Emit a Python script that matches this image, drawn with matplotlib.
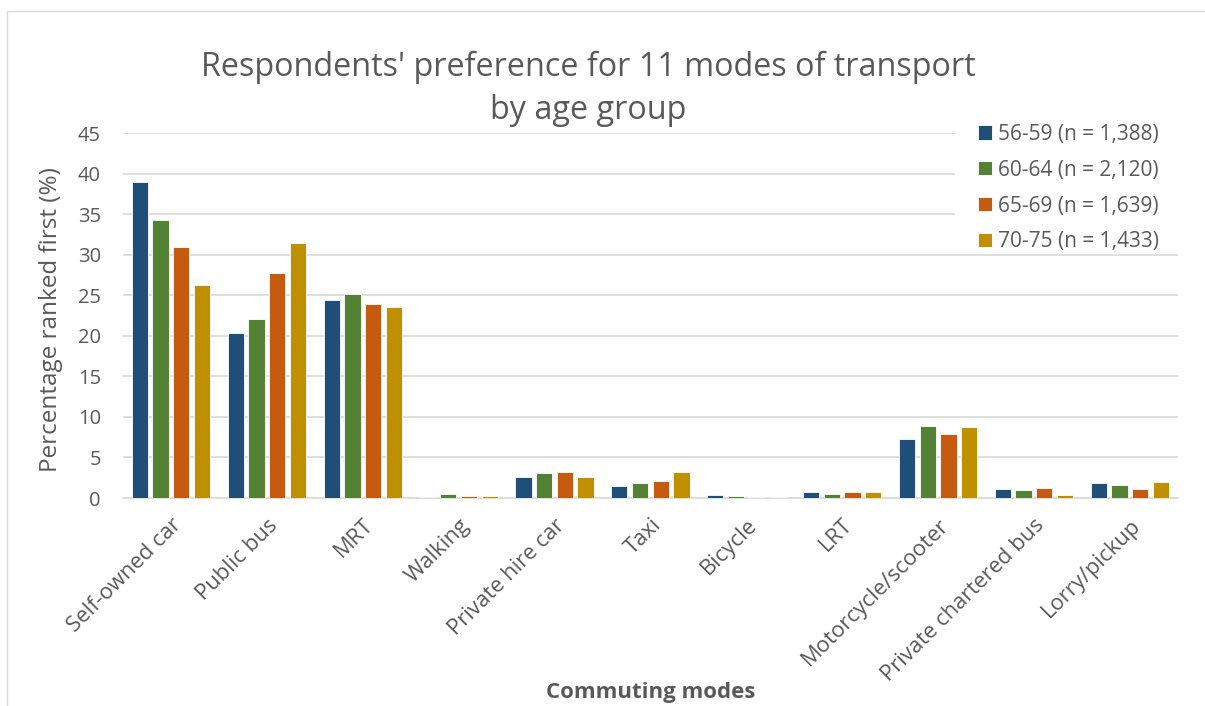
import numpy as np
import matplotlib
matplotlib.use("Agg")
import matplotlib.pyplot as plt
from matplotlib.patches import Rectangle

plt.rcParams['font.family'] = ['Open Sans', 'DejaVu Sans']

modes = ["Self-owned car", "Public bus", "MRT", "Walking", "Private hire car", "Taxi",
         "Bicycle", "LRT", "Motorcycle/scooter", "Private chartered bus", "Lorry/pickup"]
groups = ["56-59 (n = 1,388)", "60-64 (n = 2,120)", "65-69 (n = 1,639)", "70-75 (n = 1,433)"]

age_56_59 = [39.0, 20.4, 24.4, 0.1, 2.6, 1.45, 0.4, 0.75, 7.3, 1.1, 1.8]
age_60_64 = [34.3, 22.1, 25.2, 0.45, 3.1, 1.8, 0.3, 0.45, 8.9, 1.0, 1.55]
age_65_69 = [31.0, 27.8, 23.9, 0.2, 3.2, 2.1, 0.1, 0.75, 7.9, 1.2, 1.1]
age_70_75 = [26.3, 31.5, 23.5, 0.25, 2.6, 3.25, 0.1, 0.75, 8.7, 0.35, 2.0]

colors = ["#1F4E79", "#548235", "#C55A11", "#BF9000"]
series = [age_56_59, age_60_64, age_65_69, age_70_75]

fig = plt.figure(figsize=(12.05, 7.06), dpi=100)
ax = fig.add_axes([0.1021, 0.2946, 0.8753, 0.517])
ax.set_axisbelow(True)

x = np.arange(len(modes))
pitch = 0.216
width = 0.17
for i, (vals, c, lab) in enumerate(zip(series, colors, groups)):
    ax.bar(x + (i - 1.5) * pitch, vals, width, color=c, label=lab,
           edgecolor="white", linewidth=0.6, zorder=3)

ax.set_xlim(-0.5, len(modes) - 0.5)
ax.set_ylim(0, 45)
ax.set_yticks(np.arange(0, 46, 5))
ax.yaxis.grid(True, color="#D9D9D9", linewidth=1.2)
for s in ["top", "right", "left"]:
    ax.spines[s].set_visible(False)
ax.spines["bottom"].set_color("#D9D9D9")
ax.spines["bottom"].set_linewidth(1.2)
ax.tick_params(axis="both", length=0, labelsize=14.5, labelcolor="#595959")
ax.tick_params(axis="y", pad=16)
ax.tick_params(axis="x", pad=12, labelsize=15.8)
ax.set_xticks(x)
ax.set_xticklabels(modes, rotation=45, ha="right", rotation_mode="anchor")

ax.set_ylabel("Percentage ranked first (%)", fontsize=17.5, color="#595959")
ax.yaxis.set_label_coords(-0.068, 0.49)
ax.yaxis.label.set_va("center")
ax.set_xlabel("Commuting modes", fontsize=16, fontweight="bold", color="#595959")
ax.xaxis.set_label_coords(0.5, -0.5315)
ax.xaxis.label.set_va("center")

fig.text(0.488, 0.8747, "Respondents' preference for 11 modes of transport\nby age group",
         ha="center", va="center", fontsize=23.3, color="#595959", linespacing=1.4)

# white box behind legend hides the top gridlines
ax.add_patch(Rectangle((0.789, 0.679), 0.211, 0.4, transform=ax.transAxes,
                       facecolor="white", edgecolor="none", zorder=1, clip_on=False))
leg = ax.legend(loc="upper left", bbox_to_anchor=(0.7927, 1.0767), frameon=False,
                fontsize=15, handlelength=0.67, handleheight=0.67,
                handletextpad=0.3, labelspacing=0.715)
for t in leg.get_texts():
    t.set_color("#595959")

fig.patches.append(Rectangle((0.006, -0.01), 1.0, 0.995, transform=fig.transFigure,
                             fill=False, edgecolor="#D9D9D9", linewidth=1))

fig.savefig("out.png", dpi=100)
